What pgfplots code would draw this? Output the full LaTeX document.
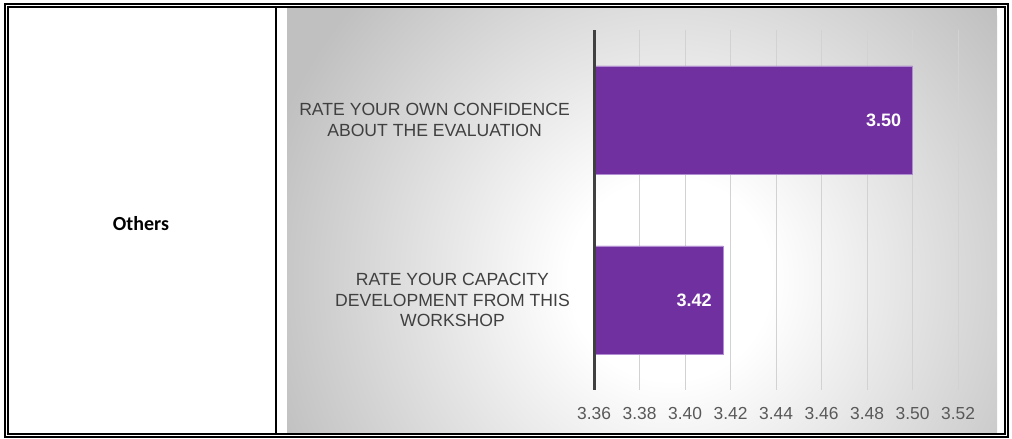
\documentclass[border=0pt]{standalone}
\usepackage{pgfplots}
\pgfplotsset{compat=1.18}
\usepackage{fontspec}
\setmainfont{Liberation Sans}
\newfontfamily\carlito{Carlito}
\definecolor{barpurple}{HTML}{7030A0}
\definecolor{baredge}{HTML}{B08CD0}
\definecolor{labelgray}{HTML}{404040}
\definecolor{tickgray}{HTML}{595959}
\definecolor{gridgray}{HTML}{D2D2D2}
\definecolor{bgouter}{HTML}{C0C0C0}
\pgfdeclareradialshading{panelbg}{\pgfpoint{0bp}{0bp}}{color(0bp)=(white); color(6bp)=(white); color(25bp)=(bgouter); color(50bp)=(bgouter)}
\begin{document}
\begin{tikzpicture}[x=1bp,y=1bp]
\useasboundingbox (0,0) rectangle (1012,439);
% grey panel with radial gradient
\fill[bgouter] (287,6) rectangle (997,431);
\begin{scope}
\clip (287,6) rectangle (997,431);
\shade[shading=panelbg] (670,160) circle (420);
\end{scope}
% frame
\draw[line width=2bp] (5,1.5) rectangle (1008,435);
\draw[line width=2bp] (8,5) rectangle (1004.5,432);
\draw[line width=2bp] (276.3,5) -- (276.3,432);
\node[font=\carlito\bfseries\fontsize{20bp}{24bp}\selectfont, anchor=base] at (141,208.3) {Others};
\begin{axis}[
  name=ax,
  at={(594bp,49bp)}, anchor=south west,
  scale only axis, width=364bp, height=360bp,
  clip=false,
  xbar, bar width=108bp,
  xmin=3.36, xmax=3.52, ymin=-0.5, ymax=1.5,
  axis line style={draw=none},
  tick style={draw=none}, major tick length=0pt,
  xmajorgrids, grid style={gridgray, line width=1bp},
  xtick={3.36,3.38,3.40,3.42,3.44,3.46,3.48,3.50,3.52},
  xticklabels={3.36,3.38,3.40,3.42,3.44,3.46,3.48,3.50,3.52},
  ytick={0,1},
  yticklabels={{RATE YOUR CAPACITY\\DEVELOPMENT FROM THIS\\WORKSHOP},{RATE YOUR OWN CONFIDENCE\\ABOUT THE EVALUATION}},
  xticklabel style={font=\fontsize{17.4bp}{20bp}\selectfont, color=tickgray, inner sep=0pt, anchor=north, yshift=-17bp},
  yticklabel style={font=\fontsize{17.6bp}{20.3bp}\selectfont, color=labelgray, align=center, anchor=east, inner sep=0pt, xshift=-24bp},
  /pgf/number format/assume math mode=true,
  point meta=x,
  nodes near coords={\pgfmathprintnumber[fixed,fixed zerofill,precision=2]{\pgfplotspointmeta}},
  nodes near coords style={font=\bfseries\fontsize{18bp}{20bp}\selectfont, color=white, anchor=east, inner sep=0pt, xshift=-11bp},
]
\addplot[fill=barpurple, draw=baredge, line width=0.8bp] coordinates {(3.4167,0) (3.5,1)};
\end{axis}
\draw[labelgray, line width=3bp] (ax.south west) -- (ax.north west);
\end{tikzpicture}
\end{document}
